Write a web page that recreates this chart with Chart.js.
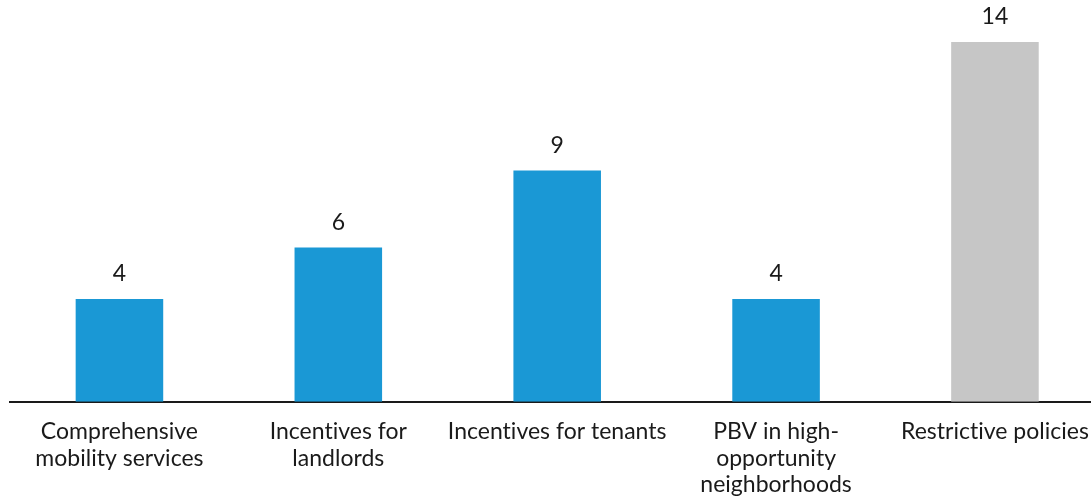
<!DOCTYPE html>
<html>
<head>
<meta charset="utf-8">
<script src="https://cdn.jsdelivr.net/npm/chart.js@4"></script>
<style>
    html, body { margin: 0; padding: 0; background: #fff; overflow: hidden; }
    #wrap { width: 1106px; height: 515px; position: relative; }
</style>
</head>
<body>
<div id="wrap"><canvas id="policy-chart"></canvas></div>
<script>
    "use strict";

    const categories = [
        ['Comprehensive', 'mobility services'],
        ['Incentives for', 'landlords'],
        ['Incentives for tenants'],
        ['PBV in high-', 'opportunity', 'neighborhoods'],
        ['Restrictive policies']
    ];
    const counts = [4, 6, 9, 4, 14];
    const barColors = ['#1a98d5', '#1a98d5', '#1a98d5', '#1a98d5', '#c6c6c6'];

    const fontFamily = 'Lato, "Open Sans", sans-serif';

    // value labels above each bar (and no "ti" ligature like the original)
    const valueLabels = {
        id: 'valueLabels',
        beforeDraw(chart) {
            chart.ctx.letterSpacing = '0.01px';
        },
        afterDatasetsDraw(chart) {
            const ctx = chart.ctx;
            const meta = chart.getDatasetMeta(0);
            ctx.save();
            ctx.font = '23px ' + fontFamily;
            ctx.fillStyle = '#1a1a1a';
            ctx.textAlign = 'center';
            ctx.textBaseline = 'middle';
            meta.data.forEach(function(bar, i) {
                ctx.fillText(String(counts[i]), bar.x, bar.y - 25);
            });
            ctx.restore();
        }
    };

    let policyChart = document.getElementById('policy-chart');
    if (policyChart) {
        window.Chart && new Chart(policyChart, {
            type: 'bar',
            data: {
                labels: categories,
                datasets: [{
                    data: counts,
                    backgroundColor: barColors,
                    borderWidth: 0,
                    categoryPercentage: 1,
                    barPercentage: 0.4
                }]
            },
            options: {
                responsive: true,
                maintainAspectRatio: false,
                animation: false,
                layout: {
                    padding: { left: 10, right: 0, top: 42, bottom: 0 }
                },
                plugins: {
                    legend: { display: false },
                    tooltip: { enabled: false }
                },
                scales: {
                    x: {
                        grid: {
                            display: false,
                            drawTicks: false
                        },
                        border: {
                            display: true,
                            color: '#1a1a1a',
                            width: 2
                        },
                        ticks: {
                            padding: 17,
                            color: '#1a1a1a',
                            maxRotation: 0,
                            autoSkip: false,
                            font: { family: fontFamily, size: 23, lineHeight: 1.15 }
                        }
                    },
                    y: {
                        display: false,
                        min: 0,
                        max: 14
                    }
                }
            },
            plugins: [valueLabels]
        });
    }
</script>
</body>
</html>
